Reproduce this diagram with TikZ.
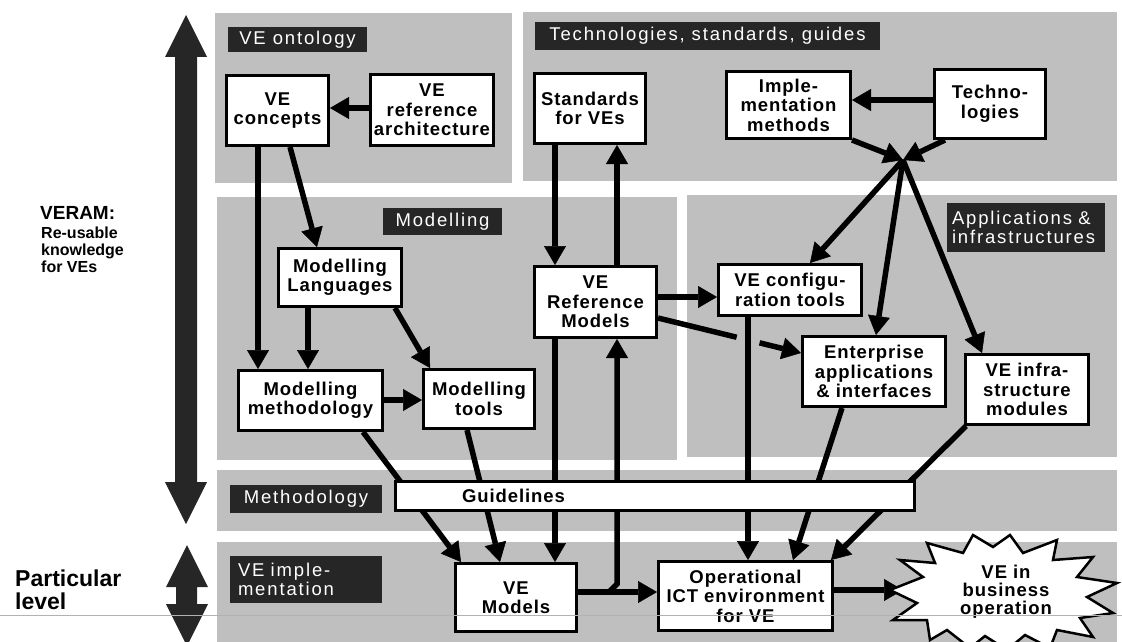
\documentclass[tikz,border=0pt]{standalone}
\usepackage{fontspec}
\setmainfont{Liberation Sans}
\newfontfamily\boxfont[LetterSpace=5]{Liberation Sans}
\newfontfamily\tabfont[LetterSpace=10]{Liberation Sans}
\usetikzlibrary{arrows.meta,calc}
\pgfdeclarelayer{panels}
\pgfdeclarelayer{links}
\pgfsetlayers{panels,links,main}

\begin{document}
\begin{tikzpicture}[x=1pt,y=-1pt,
  panel/.style={fill=black!25},
  tab/.style={fill=black!85, text=white, inner sep=0pt, align=left,
    font=\tabfont\fontsize{18.5}{19}\selectfont},
  box/.style={draw=black, line width=3pt, fill=white, align=center, inner sep=0pt,
    font=\boxfont\bfseries\fontsize{18.5}{19.5}\selectfont},
  link/.style={line width=5.5pt, -{Triangle[length=19pt,width=22pt,line width=0.5pt]}},
  plain/.style={line width=5.5pt},
  bigarrow/.style={fill=black!85},
]
\useasboundingbox (0,0) rectangle (1122,642);

% ---------- shaded areas ----------
\begin{pgfonlayer}{panels}
  \fill[panel] (215,13) rectangle (512,183);   % VE ontology
  \fill[panel] (523,12) rectangle (1117,181);  % technologies
  \fill[panel] (217,197) rectangle (677,460);  % modelling
  \fill[panel] (687,195) rectangle (1117,457); % applications
  \fill[panel] (217,470) rectangle (1117,531); % methodology
  \fill[panel] (217,542) rectangle (1117,642); % implementation
\end{pgfonlayer}

% ---------- scale arrows on the left ----------
\fill[bigarrow] (186,15) -- (207,57) -- (197,57) -- (197,482) -- (207,482)
  -- (186,524) -- (165,482) -- (175,482) -- (175,57) -- (165,57) -- cycle;
\fill[bigarrow] (187,545) -- (208,587) -- (197,587) -- (197,604) -- (208,604)
  -- (187,646) -- (166,604) -- (176,604) -- (176,587) -- (166,587) -- cycle;

\node[anchor=north west, inner sep=0pt, font=\bfseries\fontsize{19}{20}\selectfont]
  (veram) at (40,206) {VERAM:};
\node[anchor=north west, inner sep=0pt, align=left,
  font=\bfseries\fontsize{16}{17}\selectfont]
  (reuse) at (41,227) {Re-usable\\knowledge\\for VEs};
\node[anchor=north west, inner sep=0pt, align=left,
  font=\bfseries\fontsize{23}{23}\selectfont]
  (partic) at (15,570) {Particular\\level};

% ---------- area titles ----------
\node[tab, minimum width=139pt, minimum height=25pt] (tOnt) at (297.5,39.5) {VE ontology};
\node[tab, minimum width=345pt, minimum height=28pt] (tTech) at (707.5,36) {Technologies, standards, guides};
\node[tab, minimum width=119pt, minimum height=27pt] (tMod) at (442.5,221.5) {Modelling};
\node[tab, minimum width=158pt, minimum height=49pt, text width=148pt] (tApp) at (1026,227.5) {Applications \&\\infrastructures};
\node[tab, minimum width=152pt, minimum height=28pt] (tMeth) at (306,499) {Methodology};
\node[tab, minimum width=152pt, minimum height=47pt, text width=136pt] (tImp) at (306,579.5) {VE imple-\\mentation};

% ---------- boxes ----------
\node[box, minimum width=102pt, minimum height=70pt] (concepts) at (277.5,110.5) {VE\\concepts};
\node[box, minimum width=123pt, minimum height=71pt] (refarch) at (432,110) {VE\\reference\\architecture};
\node[box, minimum width=111pt, minimum height=70pt] (standards) at (590,108.5) {Standards\\for VEs};
\node[box, minimum width=124pt, minimum height=67pt] (impl) at (788.5,105) {Imple-\\mentation\\methods};
\node[box, minimum width=111pt, minimum height=69pt] (tech) at (990,104) {Techno-\\logies};
\node[box, minimum width=123pt, minimum height=58pt] (lang) at (340,277.5) {Modelling\\Languages};
\node[box, minimum width=144pt, minimum height=60pt] (method) at (310.5,400.5) {Modelling\\methodology};
\node[box, minimum width=111pt, minimum height=59pt] (tools) at (479,399) {Modelling\\tools};
\node[box, minimum width=122pt, minimum height=71pt] (refmodels) at (595.5,302) {VE\\Reference\\Models};
\node[box, minimum width=143pt, minimum height=51pt] (config) at (790,290) {VE configu-\\ration tools};
\node[box, minimum width=143pt, minimum height=70pt] (enterprise) at (874,371.5) {Enterprise\\applications\\\& interfaces};
\node[box, minimum width=123pt, minimum height=70pt] (infra) at (1027,389.5) {VE infra-\\structure\\modules};
\node[box, minimum height=29pt, text width=519pt, align=left] (guide) at (654.5,496) {\hspace*{67pt}Guidelines};
\node[box, minimum width=121pt, minimum height=68pt] (vemodels) at (516,597.5) {VE\\Models};
\node[box, minimum width=174pt, minimum height=69pt] (op) at (745.5,596) {Operational\\ICT environment\\for VE};

% starburst outline and its text
\draw[fill=white, line width=2.5pt, line join=miter]
  (890,590) -- (923,577) -- (900,560) -- (935,563) -- (927,543) -- (963,553)
  -- (973,535) -- (993,547) -- (1010,535) -- (1023,553) -- (1057,540)
  -- (1053,560) -- (1093,557) -- (1077,577) -- (1117,583) -- (1087,597)
  -- (1113,613) -- (1080,618) -- (1093,637) -- (1057,630) -- (1050,648)
  -- (1025,635) -- (1007,650) -- (985,636) -- (970,648) -- (947,630)
  -- (930,640) -- (927,620) -- (893,620) -- (917,603) -- cycle;
\node[align=center, inner sep=0pt, font=\boxfont\bfseries\fontsize{18.5}{18}\selectfont]
  (burst) at (1006,592) {VE in\\business\\operation};
\coordinate (burstin) at (903,590);
\coordinate (J) at (903,160);

% ---------- connectors ----------
\begin{pgfonlayer}{links}
  \draw[link] (refarch.west |- 0,108) -- (concepts.east |- 0,108);
  \draw[link] (concepts.south -| 258,0) -- (method.north -| 258,0);
  \draw[link] (concepts.south -| 290,0) -- (lang.north -| 317,0);
  \draw[link] (lang.south -| 308,0) -- (method.north -| 308,0);
  \draw[link] (lang.south -| 395,0) -- (tools.north -| 430,0);
  \draw[link] (method.east |- 0,400) -- (tools.west |- 0,400);
  \draw[link] (method.south -| 363,0) -- (vemodels.north -| 461,0);
  \draw[link] (tools.south -| 467,0) -- (vemodels.north -| 500,0);

  \draw[link] (standards.south -| 555,0) -- (refmodels.north -| 555,0);
  \draw[link] (refmodels.north -| 617,0) -- (standards.south -| 617,0);
  \draw[link] (refmodels.south -| 555,0) -- (vemodels.north -| 555,0);
  \draw[link] (vemodels.east |- 0,592) -- ++(31,0) -- ++(8,-8) -- (refmodels.south -| 617,0);
  \draw[link] (vemodels.east |- 0,592) -- (op.west |- 0,592);

  \draw[link] (refmodels.east |- 0,297) -- (config.west |- 0,297);
  \coordinate (ra) at (refmodels.east |- 0,318);
  \coordinate (eb) at (enterprise.west |- 0,353);
  \draw[plain] (ra) -- ($(ra)!0.55!(eb)$);
  \draw[link] ($(ra)!0.71!(eb)$) -- (eb);
  \draw[link] (config.south -| 748,0) -- (op.north -| 748,0);
  \draw[link] (enterprise.south -| 842,0) -- (op.north -| 793,0);
  \draw[link] (infra.south -| 966,0) -- (op.north -| 831,0);

  \draw[link] (tech.west |- 0,100) -- (impl.east |- 0,100);
  \draw[link] (impl.south -| 852,0) -- (J);
  \draw[link] (tech.south -| 945,0) -- (J);
  \draw[link] (J) -- (config.north -| 810,0);
  \draw[link] (J) -- (enterprise.north -| 876,0);
  \draw[link] (J) -- (infra.north -| 982,0);

  \draw[link] (op.east |- 0,590) -- (burstin);
\end{pgfonlayer}

% thin rule across the lower part
\draw[gray!60, line width=0.8pt] (0,615) -- (1122,615);
\end{tikzpicture}
\end{document}
